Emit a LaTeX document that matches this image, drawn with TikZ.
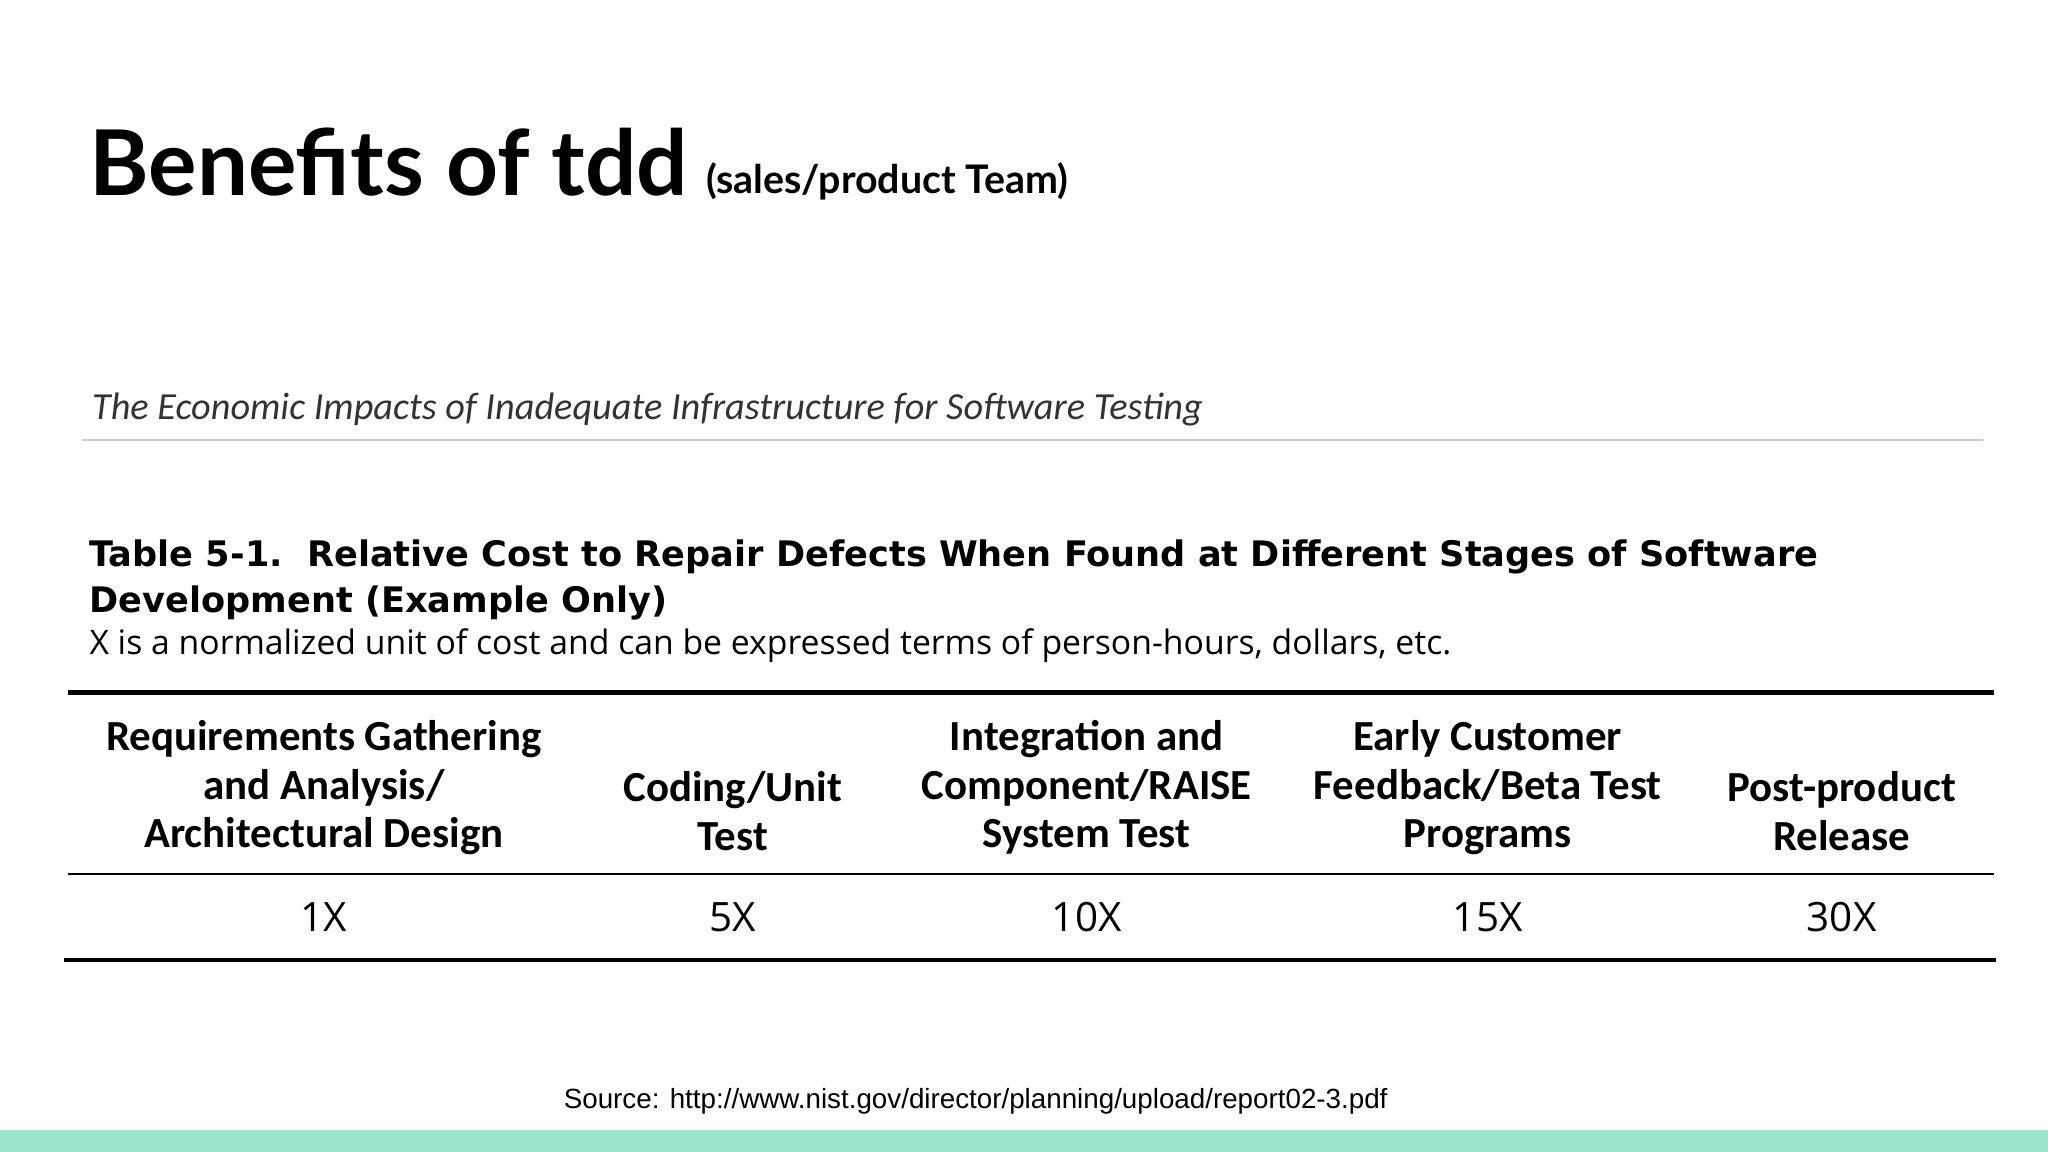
\documentclass[tikz,border=0pt]{standalone}
\usepackage{fontspec}
\setmainfont{Carlito}
\newfontfamily\latofont{Lato}
\newfontfamily\arialfont{Liberation Sans}
\newfontfamily\dejavu{DejaVu Sans}
\newfontfamily\opensans{Open Sans}
\definecolor{teal}{HTML}{9EE3CF}
\begin{document}
\begin{tikzpicture}[x=0.013061cm,y=-0.013061cm,
  hdr/.style={font=\bfseries\fontsize{12.2}{13.8}\selectfont,align=center,anchor=center},
  val/.style={font=\opensans\fontsize{11.5}{13}\selectfont,anchor=base},
  txt/.style={anchor=base west,inner sep=0pt}]
\useasboundingbox (0,0) rectangle (1568,882);
\fill[teal] (0,865) rectangle (1568,882);
\node[txt,font=\latofont\bfseries\fontsize{25.8}{30}\selectfont] (title) at (68,150) {Benefits of tdd};
\node[txt,font=\latofont\bfseries\fontsize{11.2}{13}\selectfont] (sub) at (540,148) {(sales/product Team)};
\node[txt,font=\itshape\fontsize{10.9}{13}\selectfont,text=black!80] (eco) at (70,321) {The Economic Impacts of Inadequate Infrastructure for Software Testing};
\draw[black!20,line width=0.6pt] (63,337) -- (1518,337);
\node[txt,font=\dejavu\bfseries\fontsize{10.0}{13}\selectfont] (t1) at (68,434) {Table 5-1.\ \ Relative Cost to Repair Defects When Found at Different Stages of Software};
\node[txt,font=\dejavu\bfseries\fontsize{10.0}{13}\selectfont] (t2) at (68,469) {Development (Example Only)};
\node[txt,font=\opensans\fontsize{9.6}{13}\selectfont] (t3) at (68,501) {X is a normalized unit of cost and can be expressed terms of person-hours, dollars, etc.};
\draw[line width=1.3pt] (52,530) -- (1527,530);
\draw[line width=0.6pt] (52,669) -- (1527,669);
\draw[line width=1.3pt] (49,735) -- (1528,735);
\node[hdr] (h1) at (248,603) {Requirements Gathering\\and Analysis/\\Architectural Design};
\node[hdr] (h2) at (561,621) {Coding/Unit\\Test};
\node[hdr] (h3) at (832,603) {Integration and\\Component/RAISE\\System Test};
\node[hdr] (h4) at (1139,603) {Early Customer\\Feedback/Beta Test\\Programs};
\node[hdr] (h5) at (1410,621) {Post-product\\Release};
\node[val] (v1) at (248,713) {1X};
\node[val] (v2) at (561,713) {5X};
\node[val] (v3) at (832,713) {10X};
\node[val] (v4) at (1139,713) {15X};
\node[val] (v5) at (1410,713) {30X};
\node[anchor=base,inner sep=0pt,font=\arialfont\fontsize{7.9}{9}\selectfont] (src) at (747,849) {Source: http://www.nist.gov/director/planning/upload/report02-3.pdf};
\end{tikzpicture}
\end{document}
